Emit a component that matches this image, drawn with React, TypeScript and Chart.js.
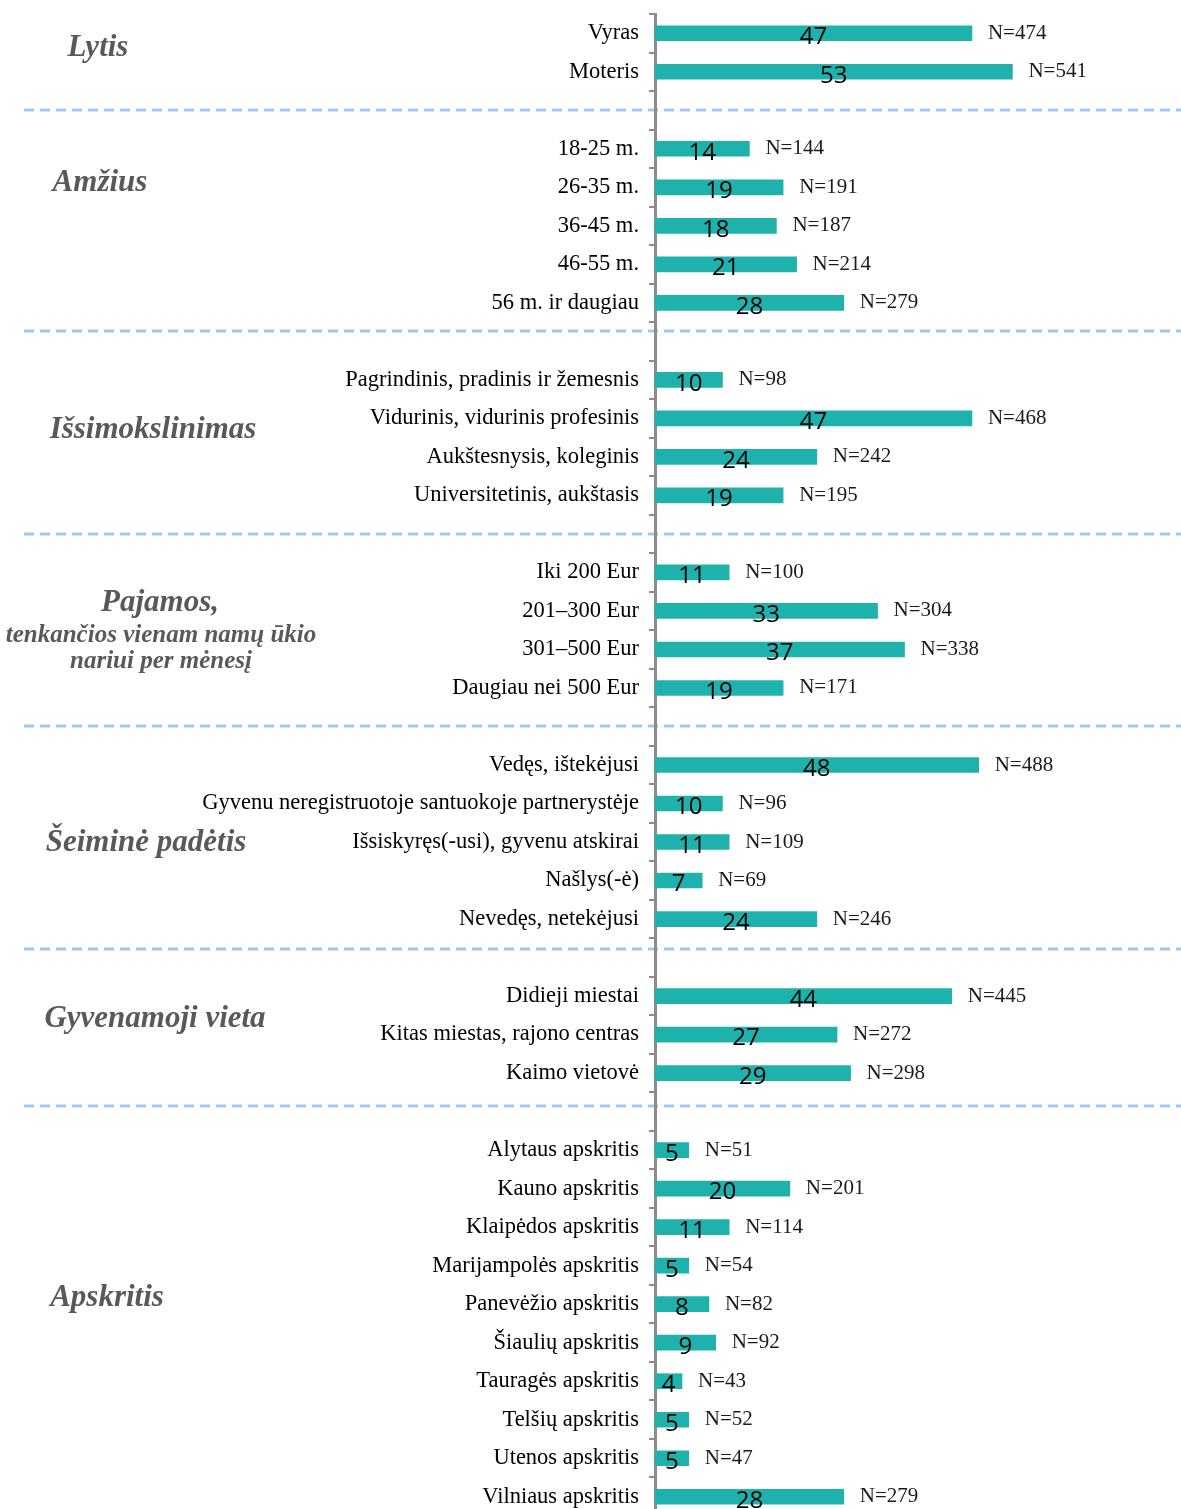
import React, { useEffect, useRef } from 'react';
import { Chart, registerables } from 'chart.js';

Chart.register(...registerables);

// ---------- DATA ----------
const categories: string[] = [
  'Vyras', 'Moteris', '',
  '18-25 m.', '26-35 m.', '36-45 m.', '46-55 m.', '56 m. ir daugiau', '',
  'Pagrindinis, pradinis ir žemesnis', 'Vidurinis, vidurinis profesinis', 'Aukštesnysis, koleginis', 'Universitetinis, aukštasis', '',
  'Iki 200 Eur', '201–300 Eur', '301–500 Eur', 'Daugiau nei 500 Eur', '',
  'Vedęs, ištekėjusi', 'Gyvenu neregistruotoje santuokoje partnerystėje', 'Išsiskyręs(-usi), gyvenu atskirai', 'Našlys(-ė)', 'Nevedęs, netekėjusi', '',
  'Didieji miestai', 'Kitas miestas, rajono centras', 'Kaimo vietovė', '',
  'Alytaus apskritis', 'Kauno apskritis', 'Klaipėdos apskritis', 'Marijampolės apskritis', 'Panevėžio apskritis',
  'Šiaulių apskritis', 'Tauragės apskritis', 'Telšių apskritis', 'Utenos apskritis', 'Vilniaus apskritis',
];

const percentValues: (number | null)[] = [
  47, 53, null,
  14, 19, 18, 21, 28, null,
  10, 47, 24, 19, null,
  11, 33, 37, 19, null,
  48, 10, 11, 7, 24, null,
  44, 27, 29, null,
  5, 20, 11, 5, 8, 9, 4, 5, 5, 28,
];

const sampleSizes: (number | null)[] = [
  474, 541, null,
  144, 191, 187, 214, 279, null,
  98, 468, 242, 195, null,
  100, 304, 338, 171, null,
  488, 96, 109, 69, 246, null,
  445, 272, 298, null,
  51, 201, 114, 54, 82, 92, 43, 52, 47, 279,
];

const groupTitles: string[] = [
  'Lytis', 'Amžius', 'Išsimokslinimas', 'Pajamos,', 'Šeiminė padėtis', 'Gyvenamoji vieta', 'Apskritis',
];
const incomeSubtitle: string[] = ['tenkančios vienam namų ūkio', 'nariui per mėnesį'];

// ---------- LAYOUT ----------
const W = 1181;
const H = 1530;
const VIEW_H = 1509;
const AXIS_X = 655;
const X_MAX = 78;
const TITLE_POS: [number, number][] = [
  [98, 48], [100, 183], [153, 430], [160, 603], [146, 843], [155, 1019], [107, 1298],
];
const SUBTITLE_POS: [number, number][] = [[161, 636], [161, 662]];
const SEPARATOR_SLOTS = [2, 7.72, 13, 18, 23.78, 27.85];

const SERIF = '"Liberation Serif", "Times New Roman", serif';
const SANS = '"Open Sans", "Noto Sans", sans-serif';

export default function App() {
  const ref = useRef<HTMLCanvasElement | null>(null);

  useEffect(() => {
    if (!ref.current) return;

    const decorations = {
      id: 'decorations',
      beforeDraw(chart: any) {
        const ctx = chart.ctx;
        const y = chart.scales.y;
        ctx.save();
        ctx.strokeStyle = '#9dc9f5';
        ctx.lineWidth = 3;
        ctx.setLineDash([10, 6]);
        SEPARATOR_SLOTS.forEach((s) => {
          const py = Math.round(y.getPixelForValue(s));
          ctx.beginPath();
          ctx.moveTo(24, py);
          ctx.lineTo(W, py);
          ctx.stroke();
        });
        ctx.setLineDash([]);
        ctx.fillStyle = '#595959';
        ctx.textAlign = 'center';
        ctx.textBaseline = 'middle';
        ctx.font = `italic bold 31px ${SERIF}`;
        groupTitles.forEach((t, i) => {
          ctx.fillText(t, TITLE_POS[i][0], TITLE_POS[i][1]);
        });
        ctx.font = `italic bold 25px ${SERIF}`;
        incomeSubtitle.forEach((t, i) => {
          ctx.fillText(t, SUBTITLE_POS[i][0], SUBTITLE_POS[i][1]);
        });
        ctx.restore();
      },
      afterDatasetsDraw(chart: any) {
        const ctx = chart.ctx;
        const meta = chart.getDatasetMeta(0);
        ctx.save();
        meta.data.forEach((el: any, i: number) => {
          const v = percentValues[i];
          if (v == null) return;
          ctx.fillStyle = '#000';
          ctx.textAlign = 'center';
          ctx.textBaseline = 'middle';
          ctx.font = `24px ${SANS}`;
          ctx.fillText(String(v), (el.base + el.x) / 2, el.y + 4);
          const n = sampleSizes[i];
          if (n != null) {
            ctx.fillStyle = '#1a1a1a';
            ctx.textAlign = 'left';
            ctx.font = `21px ${SERIF}`;
            ctx.fillText('N=' + n, el.x + 16, el.y);
          }
        });
        ctx.restore();
      },
    };

    const chart = new Chart(ref.current, {
      type: 'bar',
      data: {
        labels: categories,
        datasets: [
          {
            data: percentValues as any,
            backgroundColor: '#1fb2ac',
            borderWidth: 0,
            barThickness: 15,
          },
        ],
      },
      options: {
        indexAxis: 'y',
        responsive: false,
        animation: false,
        devicePixelRatio: 1,
        layout: { padding: { top: 14, bottom: 14, left: 0, right: 0 } },
        plugins: {
          legend: { display: false },
          tooltip: { enabled: false },
        },
        scales: {
          x: { display: false, min: 0, max: X_MAX },
          y: {
            afterFit(scale: any) {
              scale.width = AXIS_X;
              scale.paddingTop = 0;
              scale.paddingBottom = 0;
            },
            grid: {
              offset: true,
              drawOnChartArea: false,
              drawTicks: true,
              tickLength: 6,
              color: '#8c8c8c',
              lineWidth: 2,
            },
            border: { display: true, color: '#8c8c8c', width: 3 },
            ticks: {
              autoSkip: false,
              padding: 10,
              color: '#000',
              font: { family: SERIF, size: 22.5 },
            },
          },
        },
      },
      plugins: [decorations],
    });

    return () => chart.destroy();
  }, []);

  return (
    <div style={{ position: 'absolute', left: 0, top: 0, width: W, height: VIEW_H, overflow: 'hidden', background: '#fff' }}>
      <canvas ref={ref} width={W} height={H} style={{ display: 'block', width: W, height: H }} />
    </div>
  );
}
